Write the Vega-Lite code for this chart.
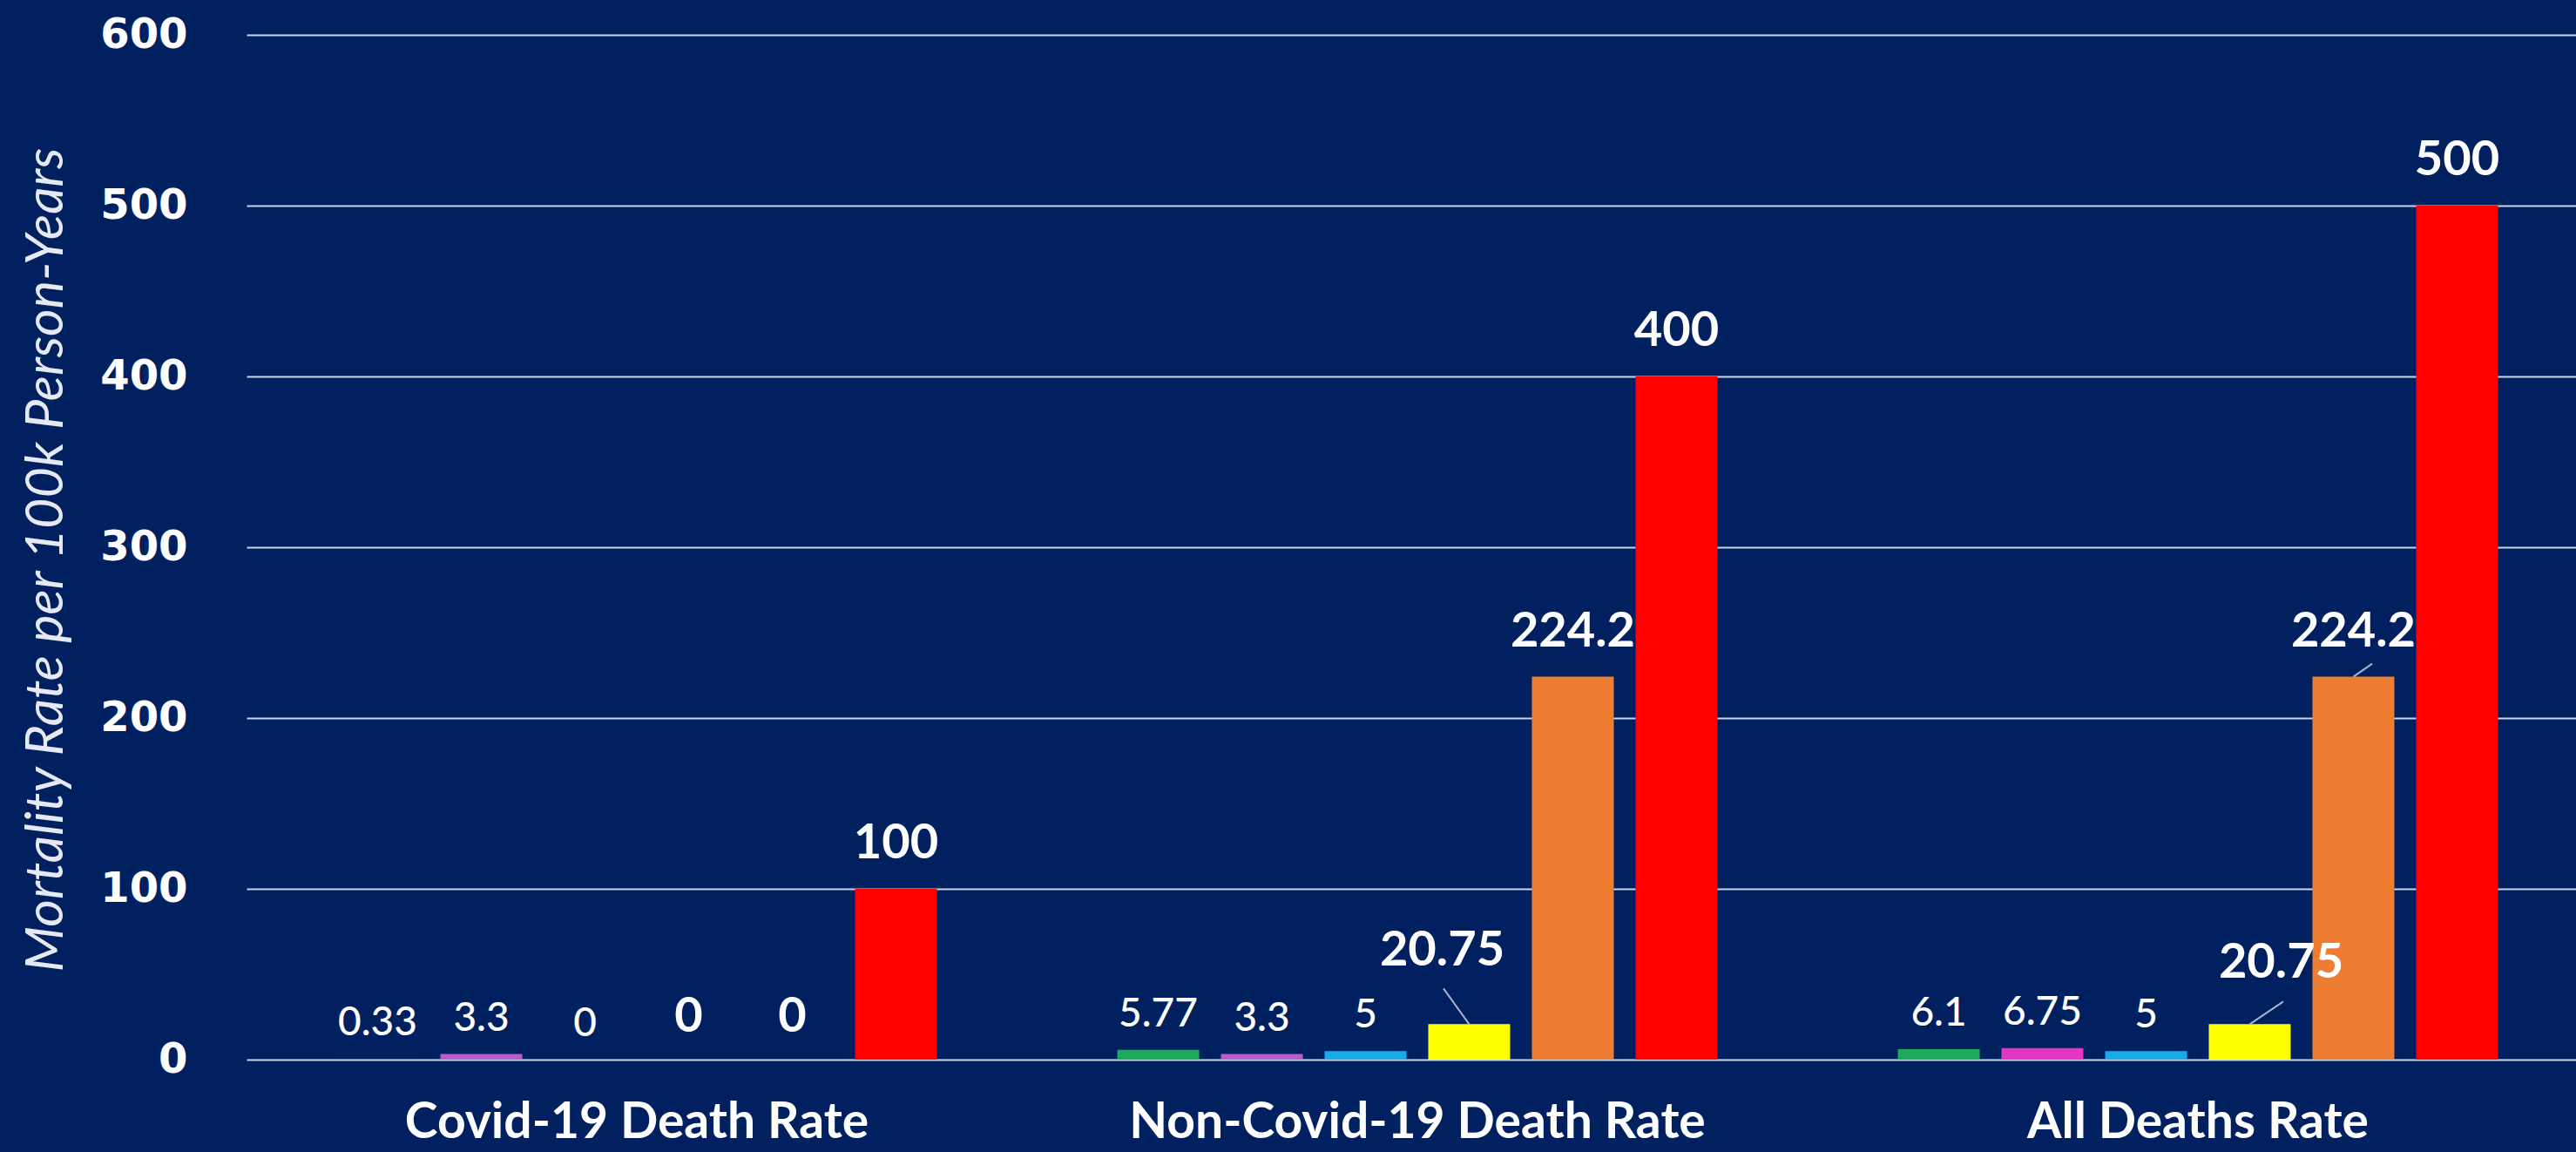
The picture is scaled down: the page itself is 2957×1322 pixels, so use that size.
{
  "$schema": "https://vega.github.io/schema/vega-lite/v6.json",
  "width": 2674,
  "height": 1176,
  "autosize": "none",
  "padding": {"left": 283, "top": 40, "right": 0, "bottom": 106},
  "background": "#002060",
  "config": {"view": {"stroke": null}},
  "data": {
    "values": [
      {"category": "Covid-19 Death Rate", "series": "s1", "rate": 0.33},
      {"category": "Covid-19 Death Rate", "series": "s2", "rate": 3.3},
      {"category": "Covid-19 Death Rate", "series": "s3", "rate": 0},
      {"category": "Covid-19 Death Rate", "series": "s4", "rate": 0},
      {"category": "Covid-19 Death Rate", "series": "s5", "rate": 0},
      {"category": "Covid-19 Death Rate", "series": "s6", "rate": 100},
      {"category": "Non-Covid-19 Death Rate", "series": "s1", "rate": 5.77},
      {"category": "Non-Covid-19 Death Rate", "series": "s2", "rate": 3.3},
      {"category": "Non-Covid-19 Death Rate", "series": "s3", "rate": 5},
      {"category": "Non-Covid-19 Death Rate", "series": "s4", "rate": 20.75},
      {"category": "Non-Covid-19 Death Rate", "series": "s5", "rate": 224.2},
      {"category": "Non-Covid-19 Death Rate", "series": "s6", "rate": 400},
      {"category": "All Deaths Rate", "series": "s1", "rate": 6.1},
      {"category": "All Deaths Rate", "series": "s2", "rate": 6.75},
      {"category": "All Deaths Rate", "series": "s3", "rate": 5},
      {"category": "All Deaths Rate", "series": "s4", "rate": 20.75},
      {"category": "All Deaths Rate", "series": "s5", "rate": 224.2},
      {"category": "All Deaths Rate", "series": "s6", "rate": 500}
    ]
  },
  "encoding": {
    "x": {
      "field": "category", "type": "nominal", "sort": null,
      "scale": {"range": [0, 2688], "paddingInner": 0, "paddingOuter": 0},
      "axis": {
        "title": null, "domain": false, "ticks": false, "labelAngle": 0, "labelLimit": 0,
        "labelFont": "Lato", "labelFontWeight": "bold", "labelFontSize": 57,
        "labelColor": "#ffffff", "labelPadding": 44
      }
    },
    "xOffset": {
      "field": "series", "type": "nominal", "sort": null,
      "scale": {"paddingInner": 0.21, "paddingOuter": 0.87}
    },
    "y": {
      "field": "rate", "type": "quantitative",
      "scale": {"domain": [0, 600], "nice": false},
      "axis": {
        "title": "Mortality Rate per 100k Person-Years",
        "titleFont": "Lato", "titleFontStyle": "italic", "titleFontWeight": "normal",
        "titleFontSize": 61, "titleColor": "#e6e9f2", "titleAngle": -90,
        "titleX": -230, "titleY": 602, "titleAlign": "center", "titleBaseline": "middle",
        "values": [0, 100, 200, 300, 400, 500, 600],
        "labelFont": "DejaVu Sans", "labelFontWeight": "bold", "labelFontSize": 48,
        "labelColor": "#ffffff", "labelPadding": 68,
        "ticks": false, "domain": false,
        "grid": true, "gridColor": "#c9d3ea", "gridWidth": 2, "gridOpacity": 1
      }
    }
  },
  "layer": [
    {
      "mark": {"type": "bar"},
      "encoding": {
        "color": {
          "condition": {"test": "datum.category == 'All Deaths Rate' && datum.series == 's2'", "value": "#E535C5"},
          "field": "series", "type": "nominal", "legend": null,
          "scale": {"domain": ["s1", "s2", "s3", "s4", "s5", "s6"],
                    "range": ["#1DAA5A", "#B95CCB", "#1AABE6", "#FFFF00", "#ED7D31", "#FF0000"]}
        }
      }
    },
    {
      "transform": [{"filter": "datum.rate < 10 && !(datum.category == 'Covid-19 Death Rate' && (datum.series == 's4' || datum.series == 's5'))"}],
      "mark": {"type": "text", "font": "Lato", "fontWeight": 500, "fontSize": 46, "color": "#ffffff", "baseline": "alphabetic", "dy": -27},
      "encoding": {"text": {"field": "rate", "type": "quantitative"}}
    },
    {
      "transform": [{"filter": "datum.category == 'Covid-19 Death Rate' && (datum.series == 's4' || datum.series == 's5')"}],
      "mark": {"type": "text", "font": "Lato", "fontWeight": "bold", "fontSize": 56, "color": "#ffffff", "baseline": "alphabetic", "dy": -32},
      "encoding": {"text": {"field": "rate", "type": "quantitative"}}
    },
    {
      "transform": [{"filter": "datum.rate >= 100"}],
      "mark": {"type": "text", "font": "Lato", "fontWeight": "bold", "fontSize": 56, "color": "#ffffff", "baseline": "alphabetic", "dy": -35},
      "encoding": {"text": {"field": "rate", "type": "quantitative"}}
    },
    {
      "transform": [{"filter": "datum.category == 'Non-Covid-19 Death Rate' && datum.series == 's4'"}],
      "mark": {"type": "text", "font": "Lato", "fontWeight": "bold", "fontSize": 56, "color": "#ffffff", "baseline": "alphabetic", "dx": -31, "dy": -67},
      "encoding": {"text": {"field": "rate", "type": "quantitative"}}
    },
    {
      "transform": [{"filter": "datum.category == 'All Deaths Rate' && datum.series == 's4'"}],
      "mark": {"type": "text", "font": "Lato", "fontWeight": "bold", "fontSize": 56, "color": "#ffffff", "baseline": "alphabetic", "dx": 36, "dy": -53},
      "encoding": {"text": {"field": "rate", "type": "quantitative"}}
    },
    {
      "transform": [{"filter": "datum.category == 'Non-Covid-19 Death Rate' && datum.series == 's4'"}],
      "mark": {"type": "rule", "color": "#a9b3cc", "strokeWidth": 2, "x2Offset": 30, "y2Offset": -41},
      "encoding": {
        "x2": {"field": "category"},
        "y2": {"field": "rate"}
      }
    },
    {
      "transform": [{"filter": "datum.category == 'All Deaths Rate' && datum.series == 's4'"}],
      "mark": {"type": "rule", "color": "#a9b3cc", "strokeWidth": 2, "x2Offset": 98, "y2Offset": -26},
      "encoding": {
        "x2": {"field": "category"},
        "y2": {"field": "rate"}
      }
    },
    {
      "transform": [{"filter": "datum.category == 'All Deaths Rate' && datum.series == 's5'"}],
      "mark": {"type": "rule", "color": "#a9b3cc", "strokeWidth": 2, "x2Offset": 200, "y2Offset": -15},
      "encoding": {
        "x2": {"field": "category"},
        "y2": {"field": "rate"}
      }
    }
  ]
}
